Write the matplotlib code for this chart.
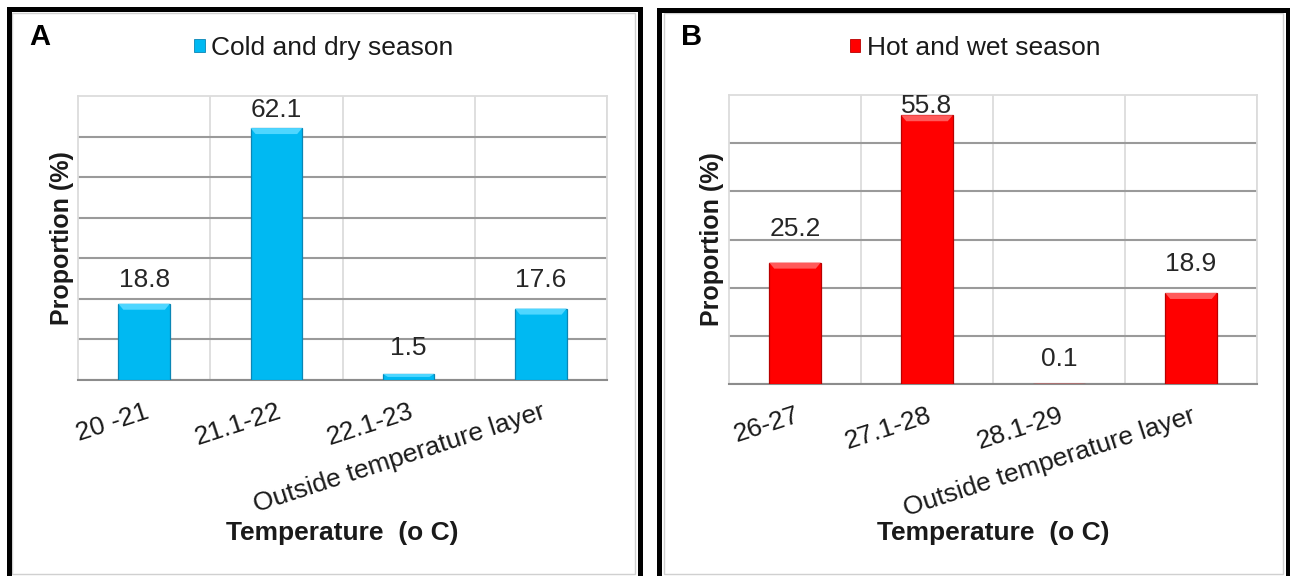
import matplotlib
matplotlib.use('Agg')
import matplotlib.pyplot as plt
from matplotlib.patches import Rectangle, Patch, Polygon
import numpy as np

# ---------------- data ----------------
categories_a = ['20 -21', '21.1-22', '22.1-23', 'Outside temperature layer']
values_a = [18.8, 62.1, 1.5, 17.6]
series_a = 'Cold and dry season'

categories_b = ['26-27', '27.1-28', '28.1-29', 'Outside temperature layer']
values_b = [25.2, 55.8, 0.1, 18.9]
series_b = 'Hot and wet season'

ymax_a = 70
ymax_b = 60
xlabel = 'Temperature  (o C)'
ylabel = 'Proportion (%)'

# ---------------- style ----------------
plt.rcParams['font.family'] = ['Liberation Sans', 'DejaVu Sans']
W, H = 1290, 576
FS = 19
style_a = dict(color='#00B9F2', edge='#0a86b5', top='#4fd6ff')
style_b = dict(color='#FF0000', edge='#b80000', top='#ff5a5a')
label_off_a = [24, 18, 26, 29]
label_off_b = [34, 9, 25, 29]

fig = plt.figure(figsize=(W / 100, H / 100), dpi=100)


def px_axes(x0, y0, x1, y1):
    return fig.add_axes([x0 / W, 1 - y1 / H, (x1 - x0) / W, (y1 - y0) / H])


def panel(ax, cats, vals, ymax, st, offs, ylab_x, ax_px):
    x = np.arange(len(cats))
    ax.set_xlim(-0.5, len(cats) - 0.5)
    ax.set_ylim(0, ymax)
    bars = ax.bar(x, vals, width=0.39, color=st['color'], edgecolor=st['edge'],
                  linewidth=0.9, zorder=3)
    # bevel highlight on top of each bar (size in pixels converted to data units)
    pw, ph = ax_px
    dx = 5 * len(cats) / pw
    for b in bars:
        bx, bw, bh = b.get_x(), b.get_width(), b.get_height()
        hh = min(6 * ymax / ph, bh / 2)
        ax.add_patch(Polygon([(bx, bh), (bx + bw, bh), (bx + bw - dx, bh - hh), (bx + dx, bh - hh)],
                             closed=True, facecolor=st['top'], edgecolor='none', zorder=4))
    ax.set_yticks(np.arange(0, ymax, 10))
    ax.yaxis.grid(True, color='#9a9a9a', linewidth=1.5, zorder=0)
    ax.tick_params(axis='y', length=0, labelleft=False)
    ax.set_xticks(x + 0.5, minor=True)
    ax.xaxis.grid(True, which='minor', color='#dcdcdc', linewidth=1.3, zorder=0)
    ax.set_xticks(x, cats, rotation=18, ha='right', rotation_mode='anchor', fontsize=FS, color='#1a1a1a')
    ax.tick_params(axis='x', which='both', length=0, pad=14)
    ax.set_axisbelow(True)
    for s in ['top', 'left', 'right']:
        ax.spines[s].set_color('#dcdcdc')
        ax.spines[s].set_linewidth(1.3)
    ax.spines['bottom'].set_color('#8c8c8c')
    ax.spines['bottom'].set_linewidth(1.5)
    for xi, v, o in zip(x, vals, offs):
        ax.annotate(f'{v}', (xi, v), xytext=(0, o), textcoords='offset pixels',
                    ha='center', va='center', fontsize=FS, color='#262626', zorder=5)
    ax.set_xlabel(xlabel, fontsize=FS, fontweight='bold', color='#1a1a1a')
    ax.set_ylabel(ylabel, fontsize=18, fontweight='bold', color='#1a1a1a')
    ax.yaxis.set_label_coords(ylab_x, 0.5)
    ax.yaxis.label.set_va('center')


axA = px_axes(78, 96, 607, 380)
panel(axA, categories_a, values_a, ymax_a, style_a, label_off_a, (62 - 78) / 529, (529, 284))
axA.xaxis.set_label_coords(0.5, -(533 - 380) / 284)
axA.xaxis.label.set_va('center')

axB = px_axes(729, 95, 1257, 384)
panel(axB, categories_b, values_b, ymax_b, style_b, label_off_b, (712 - 729) / 528, (528, 289))
axB.xaxis.set_label_coords(0.5, -(533 - 384) / 289)
axB.xaxis.label.set_va('center')

# panel letters
fig.text(40 / W, 1 - 37 / H, 'A', fontsize=21, fontweight='bold', ha='center', va='center')
fig.text(692 / W, 1 - 37 / H, 'B', fontsize=21, fontweight='bold', ha='center', va='center')

# legends
for ser, st, cx in [(series_a, style_a, 324), (series_b, style_b, 975)]:
    fig.legend(handles=[Patch(facecolor=st['color'], edgecolor=st['edge'], linewidth=0.6)], labels=[ser],
               loc='center', bbox_to_anchor=(cx / W, 1 - 48 / H), frameon=False,
               fontsize=FS, handlelength=0.4, handleheight=0.4, handletextpad=0.25,
               borderpad=0, labelcolor='#1a1a1a')

# borders
def frame(x0, y0, x1, y1, color, lw):
    fig.add_artist(Rectangle((x0 / W, 1 - y1 / H), (x1 - x0) / W, (y1 - y0) / H,
                             transform=fig.transFigure, fill=False, edgecolor=color,
                             linewidth=lw, zorder=10))

frame(12, 13, 635, 574, '#d0d0d0', 1.0)
frame(664, 13, 1283, 574, '#d0d0d0', 1.0)
frame(8.5, 9, 639.5, 590, 'black', 3.6)
frame(659, 9.5, 1287.5, 590, 'black', 3.6)

fig.savefig('out.png', dpi=100, facecolor='white')
